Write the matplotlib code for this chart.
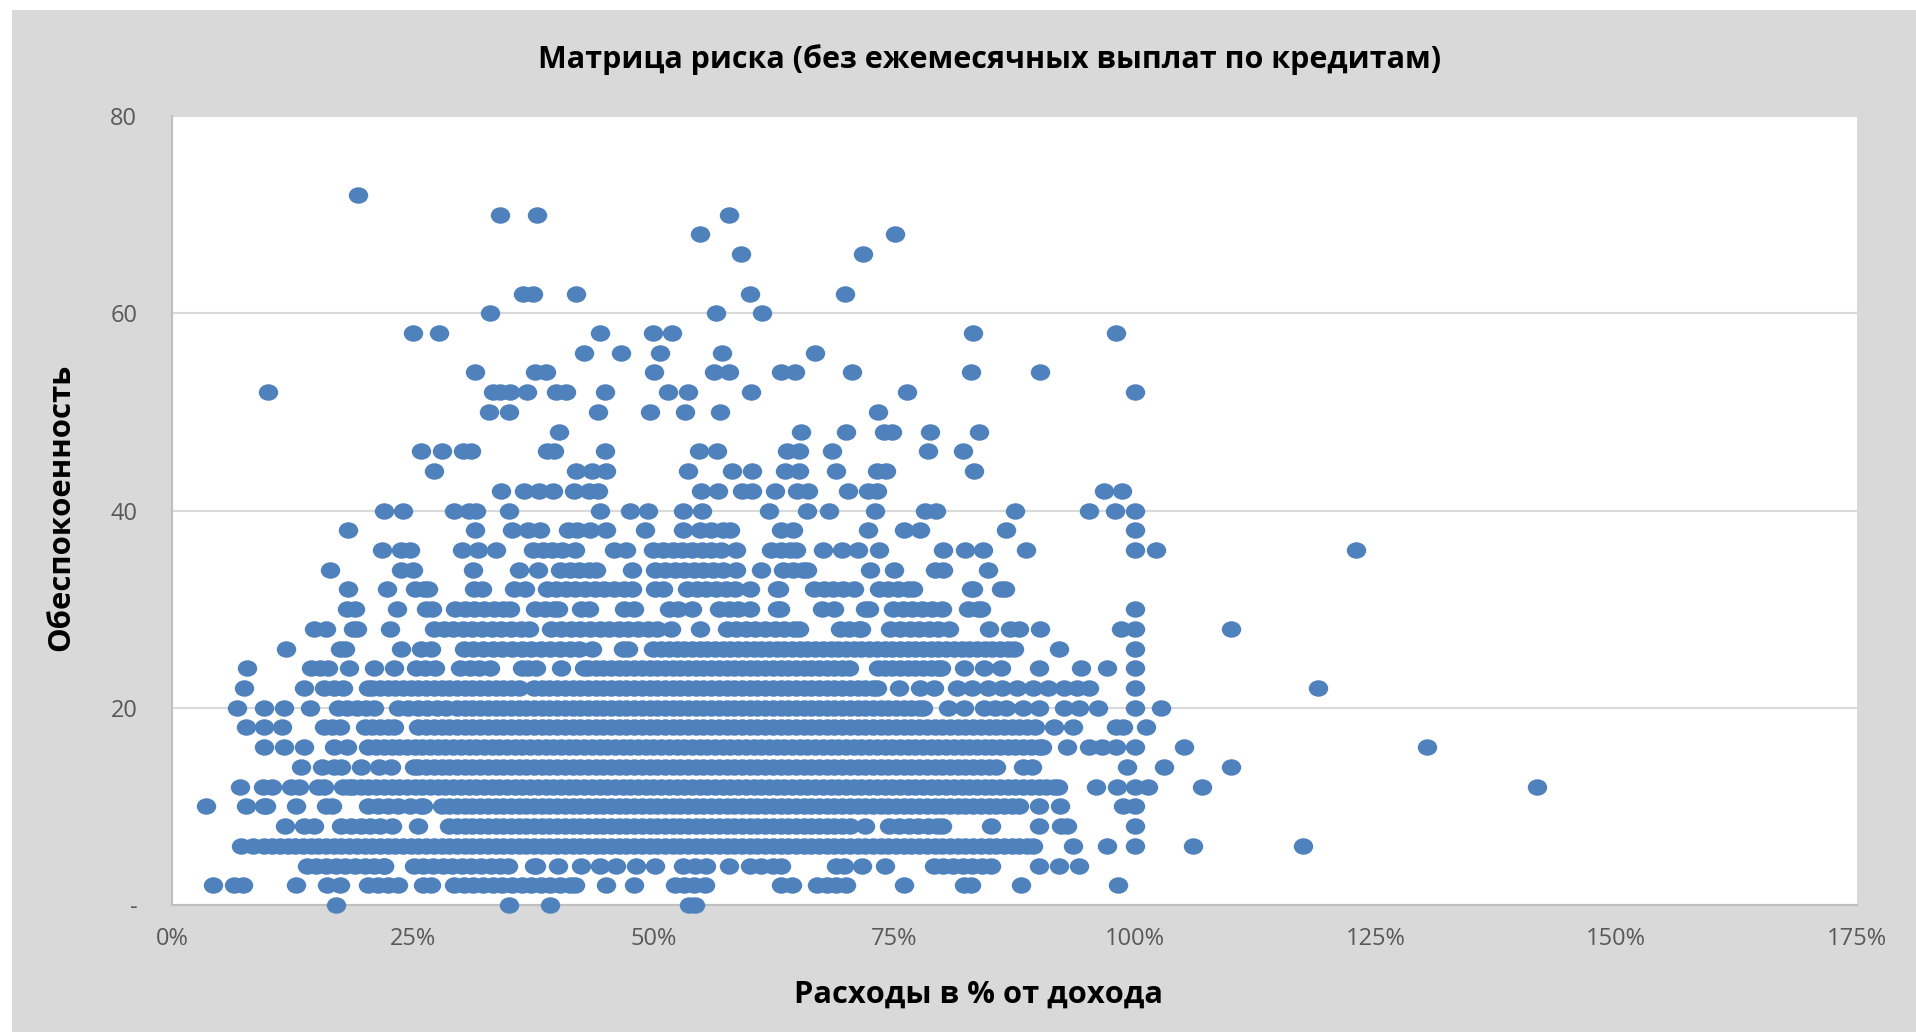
import matplotlib
matplotlib.use("Agg")
import matplotlib.pyplot as plt
from matplotlib.patches import Rectangle
from matplotlib.path import Path
from matplotlib.transforms import Affine2D

title = 'Матрица риска (без ежемесячных выплат по кредитам)'
x_title = 'Расходы в % от дохода'
y_title = 'Обеспокоенность'

x_ticks = [0, 25, 50, 75, 100, 125, 150, 175]
x_tick_labels = ['0%', '25%', '50%', '75%', '100%', '125%', '150%', '175%']
y_ticks = [0, 20, 40, 60, 80]
y_tick_labels = ['-', '20', '40', '60', '80']

# expenses in % for each level of the y axis
row_0 = [17.0, 35.0, 39.3, 53.7, 54.3]
row_2 = [4.3, 6.4, 7.4, 12.9, 16.1, 17.4, 20.4, 21.4, 22.4, 23.5, 26.1, 26.9, 29.3, 30.3, 31.3, 32.3, 33.3, 34.3, 35.3,
         36.3, 37.3, 38.3, 39.3, 40.3, 41.3, 41.9, 45.1, 48.0, 52.2, 53.2, 54.2, 55.4, 63.2, 64.4, 67.0, 68.0, 69.0,
         70.0, 76.0, 82.3, 83.0, 88.2, 98.2]
row_4 = [14.0, 15.0, 16.0, 17.0, 18.0, 19.0, 20.0, 21.0, 22.0, 22.0, 25.1, 26.1, 27.1, 28.1, 29.1, 30.1, 31.1, 32.1,
         33.1, 34.1, 34.9, 37.6, 37.8, 40.1, 42.5, 44.4, 46.1, 48.2, 50.2, 53.1, 54.3, 55.5, 57.8, 60.0, 61.2,
         62.4, 63.2, 69.0, 69.8, 71.7, 74.1, 79.1, 80.1, 81.1, 82.1, 83.1, 84.1, 85.1, 90.0, 92.1, 94.2]
row_6 = [7.2, 8.4, 9.6, 10.4, 11.2, 12.0, 12.8, 13.6, 14.4, 15.2, 16.0, 16.8, 17.6, 18.4, 19.2, 20.0, 20.8, 21.6, 22.4,
         23.2, 24.0, 24.8, 25.6, 26.4, 27.2, 28.0, 28.8, 29.6, 30.4, 31.2, 32.0, 32.8, 33.6, 34.4, 35.2, 36.0, 36.8,
         37.6, 38.4, 39.2, 40.0, 40.8, 41.6, 42.4, 43.2, 44.0, 44.8, 45.6, 46.4, 47.2, 48.0, 48.8, 49.6, 50.4, 51.2,
         52.0, 52.8, 53.6, 54.4, 55.2, 56.0, 56.8, 57.6, 58.4, 59.2, 60.0, 60.8, 61.6, 62.4, 63.2, 64.0, 64.8, 65.6,
         66.4, 67.2, 68.0, 68.8, 69.6, 70.4, 71.2, 72.0, 72.8, 73.6, 74.4, 75.2, 76.0, 76.8, 77.6, 78.4, 79.2, 80.0,
         80.8, 81.6, 82.4, 83.2, 84.0, 84.8, 85.6, 86.4, 87.2, 88.0, 88.8, 89.4, 93.6, 97.1, 100.0, 106.0, 117.5]
row_8 = [11.7, 13.7, 14.7, 17.6, 18.6, 19.6, 20.6, 21.6, 22.9, 25.5, 28.8, 29.6, 30.4, 31.2, 32.0, 32.8, 33.6, 34.4,
         35.2, 36.0, 36.8, 37.6, 38.4, 39.2, 40.0, 40.8, 41.6, 42.4, 43.2, 44.0, 44.8, 45.6, 46.4, 47.2, 48.0, 48.8,
         49.6, 50.4, 51.2, 52.0, 52.8, 53.6, 54.4, 55.2, 56.0, 56.8, 57.6, 58.4, 59.2, 60.0, 60.8, 61.6, 62.4, 63.2,
         64.0, 64.8, 65.6, 66.4, 67.2, 68.0, 68.8, 69.6, 70.4, 72.0, 74.5, 75.5, 76.5, 77.5, 78.5, 79.5, 80.0, 85.1,
         90.0, 92.3, 93.0, 100.0]
row_10 = [3.5, 7.7, 9.6, 9.8, 12.9, 16.0, 16.6, 20.4, 21.4, 22.4, 23.5, 24.7, 25.9, 26.1, 28.0, 28.8, 29.6, 30.4, 31.2,
          32.0, 32.8, 33.6, 34.4, 35.2, 36.0, 36.8, 37.6, 38.4, 39.2, 40.0, 40.8, 41.6, 42.4, 43.2, 44.0, 44.8, 45.6,
          46.4, 47.2, 48.0, 48.8, 49.6, 50.4, 51.2, 52.0, 52.8, 53.6, 54.4, 55.2, 56.0, 56.8, 57.6, 58.4, 59.2, 60.0,
          60.8, 61.6, 62.4, 63.2, 64.0, 64.8, 65.6, 66.4, 67.2, 68.0, 68.8, 69.6, 70.4, 71.2, 72.0, 72.8, 73.6, 74.4,
          75.2, 76.0, 76.8, 77.6, 78.4, 79.2, 80.0, 80.8, 81.6, 82.4, 83.2, 84.0, 84.8, 85.6, 86.4, 87.2, 88.0,
          90.0, 92.2, 98.8, 100.0]
row_12 = [7.1, 9.4, 10.4, 12.4, 13.2, 15.2, 15.8, 17.8, 18.4, 18.8, 19.6, 20.4, 21.2, 22.0, 22.8, 23.6, 24.4, 25.2, 26.0,
          26.8, 27.6, 28.4, 29.2, 30.0, 30.8, 31.6, 32.4, 33.2, 34.0, 34.8, 35.6, 36.4, 37.2, 38.0, 38.8, 39.6, 40.4,
          41.2, 42.0, 42.8, 43.6, 44.4, 45.2, 46.0, 46.8, 47.6, 48.4, 49.2, 50.0, 50.8, 51.6, 52.4, 53.2, 54.0, 54.8,
          55.6, 56.4, 57.2, 58.0, 58.8, 59.6, 60.4, 61.2, 62.0, 62.8, 63.6, 64.4, 65.2, 66.0, 66.8, 67.6, 68.4, 69.2,
          70.0, 70.8, 71.6, 72.4, 73.2, 74.0, 74.8, 75.6, 76.4, 77.2, 78.0, 78.8, 79.6, 80.4, 81.2, 82.0, 82.8, 83.6,
          84.4, 85.2, 86.0, 86.8, 87.6, 88.4, 89.2, 90.0, 90.8, 91.6, 92.0, 96.0, 98.1, 100.0, 101.4, 107.0, 141.8]
row_14 = [13.4, 15.6, 16.8, 17.6, 19.6, 21.5, 22.7, 25.1, 25.6, 26.4, 27.2, 28.0, 28.8, 29.6, 30.4, 31.2, 32.0, 32.8,
          33.6, 34.4, 35.2, 36.0, 36.8, 37.6, 38.4, 39.2, 40.0, 40.8, 41.6, 42.4, 43.2, 44.0, 44.8, 45.6, 46.4, 47.2,
          48.0, 48.8, 49.6, 50.4, 51.2, 52.0, 52.8, 53.6, 54.4, 55.2, 56.0, 56.8, 57.6, 58.4, 59.2, 60.0, 60.8, 61.6,
          62.4, 63.2, 64.0, 64.8, 65.6, 66.4, 67.2, 68.0, 68.8, 69.6, 70.4, 71.2, 72.0, 72.8, 73.6, 74.4, 75.2, 76.0,
          76.8, 77.6, 78.4, 79.2, 80.0, 80.8, 81.6, 82.4, 83.2, 84.0, 84.8, 85.6, 88.4, 89.3, 99.2, 103.0, 110.0]
row_16 = [9.6, 11.6, 13.7, 16.8, 18.2, 20.4, 21.2, 22.0, 22.8, 23.6, 24.4, 25.2, 26.0, 26.8, 27.6, 28.4, 29.2, 30.0,
          30.8, 31.6, 32.4, 33.2, 34.0, 34.8, 35.6, 36.4, 37.2, 38.0, 38.8, 39.6, 40.4, 41.2, 42.0, 42.8, 43.6, 44.4,
          45.2, 46.0, 46.8, 47.6, 48.4, 49.2, 50.0, 50.8, 51.6, 52.4, 53.2, 54.0, 54.8, 55.6, 56.4, 57.2, 58.0, 58.8,
          59.6, 60.4, 61.2, 62.0, 62.8, 63.6, 64.4, 65.2, 66.0, 66.8, 67.6, 68.4, 69.2, 70.0, 70.8, 71.6, 72.4, 73.2,
          74.0, 74.8, 75.6, 76.4, 77.2, 78.0, 78.8, 79.6, 80.4, 81.2, 82.0, 82.8, 83.6, 84.4, 85.2, 86.0, 86.8, 87.6,
          88.4, 89.2, 90.0, 90.4, 93.0, 95.2, 96.6, 98.0, 100.0, 105.1, 130.3]
row_18 = [7.7, 9.6, 11.4, 15.8, 16.6, 17.4, 20.0, 20.8, 21.6, 22.4, 23.1, 25.6, 26.4, 27.2, 28.0, 28.8, 29.6, 30.4,
          31.2, 32.0, 32.8, 33.6, 34.4, 35.2, 36.0, 36.8, 37.6, 38.4, 39.2, 40.0, 40.8, 41.6, 42.4, 43.2, 44.0, 44.8,
          45.6, 46.4, 47.2, 48.0, 48.8, 49.6, 50.4, 51.2, 52.0, 52.8, 53.6, 54.4, 55.2, 56.0, 56.8, 57.6, 58.4, 59.2,
          60.0, 60.8, 61.6, 62.4, 63.2, 64.0, 64.8, 65.6, 66.4, 67.2, 68.0, 68.8, 69.6, 70.4, 71.2, 72.0, 72.8, 73.6,
          74.4, 75.2, 76.0, 76.8, 77.6, 78.4, 79.2, 80.0, 80.8, 81.6, 82.4, 83.2, 84.0, 84.8, 85.6, 86.4, 87.2, 88.0,
          88.8, 89.6, 91.6, 93.6, 98.0, 98.8, 101.2]
row_20 = [6.7, 9.6, 11.6, 14.3, 17.2, 18.2, 19.2, 20.2, 21.0, 23.5, 24.5, 25.5, 26.5, 27.5, 28.5, 29.6, 30.4, 31.2,
          32.0, 32.8, 33.6, 34.4, 35.2, 36.0, 36.8, 37.6, 38.4, 39.2, 40.0, 40.8, 41.6, 42.4, 43.2, 44.0, 44.8, 45.6,
          46.4, 47.2, 48.0, 48.8, 49.6, 50.4, 51.2, 52.0, 52.8, 53.6, 54.4, 55.2, 56.0, 56.8, 57.6, 58.4, 59.2, 60.0,
          60.8, 61.6, 62.4, 63.2, 64.0, 64.8, 65.6, 66.4, 67.2, 68.0, 68.8, 69.6, 70.4, 71.2, 72.0, 72.8, 73.6, 74.4,
          75.2, 76.0, 76.8, 77.6, 78.0, 80.6, 82.3, 84.3, 85.5, 86.6, 88.4, 90.0, 92.6, 94.2, 96.2, 100.0, 102.7]
row_22 = [7.5, 13.7, 15.8, 16.8, 17.8, 20.4, 20.8, 21.6, 22.4, 23.2, 24.0, 24.8, 25.6, 26.4, 27.2, 28.0, 28.8, 29.6,
          30.4, 31.2, 32.0, 32.8, 33.6, 34.4, 35.2, 36.0, 37.6, 38.4, 39.2, 40.0, 40.8, 41.6, 42.4, 43.2, 44.0, 44.8,
          45.6, 46.4, 47.2, 48.0, 48.8, 49.6, 50.4, 51.2, 52.0, 52.8, 53.6, 54.4, 55.2, 56.0, 56.8, 57.6, 58.4, 59.2,
          60.0, 60.8, 61.6, 62.4, 63.2, 64.0, 64.8, 65.6, 66.4, 67.2, 68.0, 68.8, 69.6, 70.4, 71.2, 72.0, 72.8, 73.2,
          75.5, 77.7, 79.1, 81.5, 83.1, 84.7, 86.2, 87.8, 89.4, 91.0, 92.6, 94.0, 95.2, 100.0, 119.0]
row_24 = [7.8, 14.4, 15.4, 16.2, 18.4, 21.0, 23.1, 25.3, 26.3, 27.3, 29.9, 30.9, 31.9, 33.0, 36.3, 37.0, 37.8, 40.4,
          42.8, 43.2, 44.0, 44.8, 45.6, 46.4, 47.2, 48.0, 48.8, 49.6, 50.4, 51.2, 52.0, 52.8, 53.6, 54.4, 55.2, 56.0,
          56.8, 57.6, 58.4, 59.2, 60.0, 60.8, 61.6, 62.4, 63.2, 64.0, 64.8, 65.6, 66.4, 67.2, 68.0, 68.8, 69.6, 70.3,
          73.3, 74.0, 74.8, 75.6, 76.4, 77.2, 78.0, 78.8, 79.6, 79.9, 82.3, 84.3, 86.1, 90.0, 94.4, 97.1, 100.0]
row_26 = [11.8, 17.4, 18.0, 23.8, 25.9, 26.9, 30.3, 31.3, 32.3, 33.3, 34.3, 35.3, 36.3, 37.3, 38.3, 39.3, 40.3, 41.3,
          42.3, 43.6, 46.8, 47.4, 50.0, 50.8, 51.6, 52.4, 53.2, 54.0, 54.8, 55.6, 56.4, 57.2, 58.0, 58.8, 59.6, 60.4,
          61.2, 62.0, 62.8, 63.6, 64.4, 65.2, 66.0, 66.8, 67.6, 68.4, 69.2, 70.0, 70.8, 71.6, 72.4, 73.2, 74.0, 74.8,
          75.6, 76.4, 77.2, 78.0, 78.8, 79.6, 80.4, 81.2, 82.0, 82.8, 83.6, 84.4, 85.2, 86.0, 86.8, 87.4, 92.1, 100.0]
row_28 = [14.7, 16.0, 18.8, 19.2, 22.6, 27.2, 28.2, 29.2, 30.2, 31.2, 32.2, 33.2, 34.2, 35.2, 36.2, 37.1, 39.4, 40.4,
          41.4, 42.4, 43.4, 44.4, 45.4, 46.4, 47.4, 48.4, 49.4, 50.4, 51.8, 54.8, 57.6, 58.6, 59.6, 60.6, 61.6, 62.6,
          63.6, 64.6, 65.1, 69.4, 70.3, 71.4, 71.6, 74.6, 75.6, 76.6, 77.6, 78.6, 79.6, 80.7, 84.9, 87.0, 88.0, 90.1,
          98.6, 100.0, 110.0]
row_30 = [18.2, 19.0, 23.4, 26.4, 27.0, 29.4, 30.4, 31.4, 32.4, 33.4, 34.4, 35.1, 37.7, 38.7, 39.7, 40.1, 42.5, 43.3,
          46.9, 48.0, 51.6, 52.6, 54.0, 56.8, 57.8, 58.8, 60.0, 62.8, 63.1, 67.5, 68.8, 72.0, 72.4, 74.9, 75.9, 76.9,
          77.9, 78.9, 80.0, 82.7, 83.7, 84.0, 100.0]
row_32 = [18.3, 22.3, 25.2, 26.2, 26.6, 31.4, 32.2, 35.5, 36.7, 38.9, 39.9, 40.9, 41.9, 42.9, 43.9, 44.9, 45.9, 46.9,
          47.8, 50.2, 51.0, 53.5, 54.5, 55.5, 56.5, 57.5, 58.5, 60.0, 62.8, 63.0, 66.7, 67.7, 68.7, 69.7, 70.8, 73.4,
          74.4, 75.4, 76.4, 77.0, 83.0, 83.2, 86.1, 86.5]
row_34 = [16.4, 23.8, 25.0, 31.3, 36.0, 38.0, 40.3, 41.3, 42.3, 43.3, 44.0, 47.8, 50.2, 51.2, 52.2, 53.2, 54.2, 55.2,
          56.2, 57.2, 58.6, 61.2, 63.5, 64.5, 65.5, 66.0, 72.5, 75.0, 79.2, 80.1, 84.7]
row_36 = [21.8, 23.8, 24.7, 30.1, 31.8, 33.7, 37.5, 38.5, 39.5, 40.5, 41.9, 45.9, 47.2, 50.0, 51.0, 52.0, 53.0, 54.0,
          55.0, 56.0, 57.0, 58.6, 62.2, 63.2, 64.2, 64.8, 67.6, 69.6, 71.2, 73.4, 80.1, 82.4, 84.2, 88.7, 100.0, 102.2,
          123.0]
row_38 = [18.3, 31.5, 35.3, 37.0, 38.2, 41.1, 42.1, 43.4, 45.1, 49.1, 53.1, 54.8, 56.0, 57.2, 58.0, 63.3, 64.5, 72.3,
          76.0, 77.7, 86.6, 100.0]
row_40 = [22.0, 24.0, 29.3, 30.8, 31.6, 35.0, 44.5, 47.6, 49.4, 53.1, 55.0, 62.0, 66.0, 68.2, 73.0, 78.2, 79.3, 87.6,
          95.2, 97.9, 100.0]
row_42 = [34.2, 36.6, 38.1, 39.6, 41.8, 43.3, 44.2, 54.9, 56.7, 59.2, 60.2, 62.6, 64.9, 66.1, 70.2, 72.3, 73.2, 96.8,
          98.7]
row_44 = [27.2, 42.0, 43.6, 45.1, 53.6, 58.2, 60.2, 63.7, 65.1, 69.0, 73.2, 74.2, 83.3]
row_46 = [25.9, 28.0, 30.2, 31.1, 38.9, 39.7, 45.0, 54.7, 56.6, 63.9, 65.1, 68.5, 78.5, 82.2]
row_48 = [40.2, 65.3, 70.0, 73.9, 74.8, 78.7, 83.8]
row_50 = [32.9, 35.0, 44.2, 49.6, 53.3, 56.9, 73.3]
row_52 = [10.0, 33.3, 34.1, 35.1, 36.9, 39.9, 40.9, 45.0, 51.5, 53.6, 60.1, 76.3, 100.0]
row_54 = [31.5, 37.7, 38.8, 50.1, 56.3, 57.8, 63.3, 64.7, 70.6, 83.0, 90.1]
row_56 = [42.8, 46.6, 50.7, 57.1, 66.8]
row_58 = [25.0, 27.7, 44.4, 50.0, 51.9, 83.2, 98.0]
row_60 = [33.0, 56.5, 61.3]
row_62 = [36.5, 37.5, 42.0, 60.0, 69.9]
row_66 = [59.1, 71.8]
row_68 = [54.8, 75.1]
row_70 = [34.1, 37.9, 57.9]
row_72 = [19.3]

levels = [0, 2, 4, 6, 8, 10, 12, 14, 16, 18, 20, 22, 24, 26, 28, 30, 32, 34, 36, 38, 40, 42, 44, 46, 48, 50, 52, 54, 56,
          58, 60, 62, 66, 68, 70, 72]
rows = [row_0, row_2, row_4, row_6, row_8, row_10, row_12, row_14, row_16, row_18, row_20, row_22, row_24, row_26,
        row_28, row_30, row_32, row_34, row_36, row_38, row_40, row_42, row_44, row_46, row_48, row_50, row_52, row_54,
        row_56, row_58, row_60, row_62, row_66, row_68, row_70, row_72]

W, H = 1916, 1032
GREY = '#D9D9D9'
BLUE = '#4F81BD'
LABEL = '#595959'

plt.rcParams['font.family'] = ['Open Sans', 'DejaVu Sans']

fig = plt.figure(figsize=(W / 100, H / 100), dpi=100, facecolor='white')
fig.add_artist(Rectangle((12 / W, 0), 1 - 12 / W, 1 - 10 / H, transform=fig.transFigure, facecolor=GREY,
                         edgecolor='none', zorder=-1))

ax = fig.add_axes([172 / W, 1 - 905 / H, (1857 - 172) / W, (905 - 116) / H], facecolor='white')

# the source chart is stretched, so the dots are slightly wider than tall
dot = Path.unit_circle().transformed(Affine2D().scale(1.18, 1.0))
for level, xs in zip(levels, rows):
    ax.plot(xs, [level] * len(xs), linestyle='none', marker=dot, markersize=14, markerfacecolor=BLUE,
            markeredgecolor='none', clip_on=False, zorder=3)

ax.set_xlim(0, 175)
ax.set_ylim(0, 80)
ax.set_xticks(x_ticks)
ax.set_xticklabels(x_tick_labels)
ax.set_yticks(y_ticks)
ax.set_yticklabels(y_tick_labels)
ax.tick_params(axis='x', length=0, pad=16, labelsize=17, labelcolor=LABEL)
ax.tick_params(axis='y', length=0, pad=25, labelsize=17, labelcolor=LABEL)
ax.grid(axis='y', color=GREY, linewidth=1.5, zorder=0)
ax.set_axisbelow(True)

for side in ['top', 'right']:
    ax.spines[side].set_visible(False)
for side in ['left', 'bottom']:
    ax.spines[side].set_color('#BFBFBF')
    ax.spines[side].set_linewidth(1.5)

fig.text(990 / W, 1 - 60 / H, title, ha='center', va='center', fontsize=22, fontweight='bold', color='black')
fig.text(978 / W, 1 - 995 / H, x_title, ha='center', va='center', fontsize=22.2, fontweight='bold', color='black')
fig.text(61 / W, 1 - 507 / H, y_title, ha='center', va='center', rotation=90, fontsize=22.4, fontweight='bold', color='black')

fig.savefig('out.png', dpi=100, facecolor=fig.get_facecolor())
